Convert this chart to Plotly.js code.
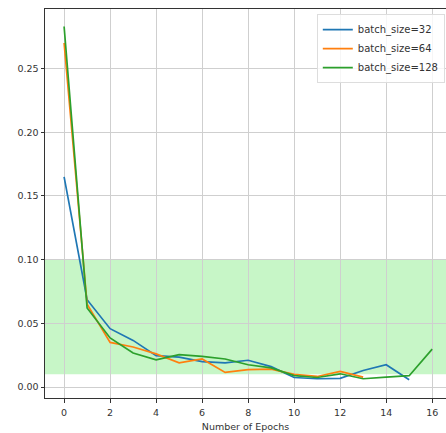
<!DOCTYPE html>
<html>
<head>
<meta charset="utf-8">
<script src="https://cdn.plot.ly/plotly-3.0.1.min.js"></script>
<style>html,body{margin:0;padding:0;background:#fff;}#chart{width:446px;height:433px;}</style>
</head>
<body>
<div id="chart"></div>
<script>
const epochs32 = [0,1,2,3,4,5,6,7,8,9,10,11,12,13,14,15];
const loss32 = [0.165,0.0685,0.0458,0.0366,0.0246,0.0235,0.020,0.019,0.021,0.016,0.0075,0.0065,0.0068,0.013,0.0175,0.0057];
const epochs64 = [0,1,2,3,4,5,6,7,8,9,10,11,12,13];
const loss64 = [0.270,0.065,0.035,0.0314,0.026,0.019,0.022,0.0115,0.0136,0.014,0.010,0.0083,0.0123,0.0078];
const epochs128 = [0,1,2,3,4,5,6,7,8,9,10,11,12,13,14,15,16];
const loss128 = [0.283,0.062,0.0385,0.0267,0.0214,0.0254,0.024,0.022,0.0175,0.015,0.009,0.0075,0.0104,0.0065,0.0078,0.0089,0.0298];
const seriesNames = ['batch_size=32','batch_size=64','batch_size=128'];
const bandLow = 0.01, bandHigh = 0.10;
const xTicks = [0,2,4,6,8,10,12,14,16];
const yTicks = [0.00,0.05,0.10,0.15,0.20,0.25];

const colors = ['#1f77b4','#ff7f0e','#2ca02c'];
const xs = [epochs32, epochs64, epochs128];
const ys = [loss32, loss64, loss128];
const traces = xs.map((x,i)=>({
  x: x, y: ys[i], type:'scatter', mode:'lines', name: seriesNames[i],
  line:{color:colors[i], width:1.7}
}));

const font = {family:'DejaVu Sans, sans-serif', size:9.5, color:'#333'};
const layout = {
  width:446, height:433,
  margin:{l:45, r:0, t:9, b:35},
  paper_bgcolor:'#fff', plot_bgcolor:'#fff',
  font: font,
  showlegend:true,
  legend:{x:0.997, y:0.987, xanchor:'right', yanchor:'top', bgcolor:'rgba(255,255,255,0.8)',
    bordercolor:'#dddddd', borderwidth:1, font:{family:'DejaVu Sans, sans-serif', size:10, color:'#333'},
    tracegroupgap:0, itemwidth:30},
  xaxis:{range:[-0.83,16.6], tickvals:xTicks, ticktext:xTicks.map(String),
    showgrid:true, gridcolor:'#cfcfcf', gridwidth:1, zeroline:false,
    showline:true, linecolor:'#333', linewidth:1, mirror:true,
    ticks:'outside', ticklen:3.5, tickcolor:'#333', ticklabelstandoff:2,
    title:{text:'Number of Epochs', font:{family:'DejaVu Sans, sans-serif', size:9.5, color:'#333'}, standoff:6}},
  yaxis:{range:[-0.0086,0.2967], tickvals:yTicks, ticktext:yTicks.map(v=>v.toFixed(2)),
    showgrid:true, gridcolor:'#cfcfcf', gridwidth:1, zeroline:false,
    showline:true, linecolor:'#333', linewidth:1, mirror:false,
    ticks:'outside', ticklen:3.5, tickcolor:'#333'},
  shapes:[{type:'rect', xref:'paper', yref:'y', x0:0, x1:1, y0:bandLow, y1:bandHigh,
    fillcolor:'rgba(144,238,144,0.5)', line:{width:0}, layer:'below'}]
};
Plotly.newPlot('chart', traces, layout, {staticPlot:true, displayModeBar:false});
</script>
</body>
</html>
